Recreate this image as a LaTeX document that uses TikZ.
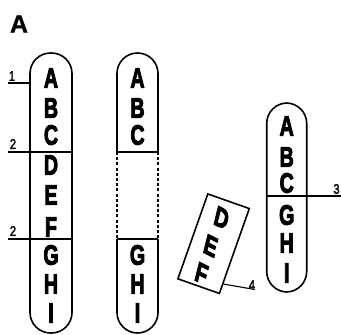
\documentclass[tikz,border=0pt]{standalone}
\usepackage{fontspec}
\setsansfont{Liberation Sans}
\newfontfamily\genefont[FakeBold=4]{Liberation Sans Bold}
\newfontfamily\numfont[FakeBold=2]{Liberation Sans}
\newfontfamily\titlefont[FakeBold=1]{Liberation Sans Bold}
\usetikzlibrary{calc}
\tikzset{
  chrom/.style={draw, line width=1.6pt, rounded corners=20.5pt},
  band/.style={line width=1.6pt},
  lead/.style={line width=1.1pt},
  gene/.style={font=\genefont\fontsize{28}{28}\selectfont, xscale=0.7, inner sep=0pt},
  num/.style={font=\numfont\fontsize{14}{14}\selectfont, xscale=0.8, inner sep=0pt},
}
\begin{document}
\begin{tikzpicture}[x=1pt,y=-1pt]
\useasboundingbox (0,0) rectangle (341,335);
% title
\node[font=\titlefont\fontsize{25}{25}\selectfont, inner sep=0pt] (title) at (19,24) {A};

% chromosome 1
\draw[chrom] (30,53) rectangle (72,333);
\coordinate (c1l1) at (30,152); \coordinate (c1r1) at (72,152);
\coordinate (c1l2) at (30,239); \coordinate (c1r2) at (72,239);
\coordinate (l1a) at (8,83); \coordinate (l1b) at (30,83);
\coordinate (l2a) at (8,152); \coordinate (l3a) at (8,239);
\draw[lead] (l1a) -- (l1b);
\draw[band] (l2a) -- (c1r1);
\draw[band] (l3a) -- (c1r2);
\node[num] (n1) at (12,76) {1};
\node[num] (n2a) at (13,144) {2};
\node[num] (n2b) at (13,231) {2};
\foreach \l/\y in {A/78,B/108,C/135,D/165,E/195,F/227,G/255,H/284,I/313}
  \node[gene] (c1\l) at (51,\y) {\l};

% chromosome 2
\draw[chrom] (117,152) -- (117,53) -- (158,53) -- (158,152);
\draw[band] (117,152) -- (158,152);
\draw[line width=1.3pt, dash pattern=on 3pt off 2.2pt] (117,152) -- (117,239);
\draw[line width=1.3pt, dash pattern=on 3pt off 2.2pt] (158,152) -- (158,239);
\draw[chrom] (117,239) -- (117,333) -- (158,333) -- (158,239);
\draw[band] (117,239) -- (158,239);
\foreach \l/\y in {A/78,B/108,C/135,G/255,H/284,I/313}
  \node[gene] (c2\l) at (137.5,\y) {\l};

% chromosome 3
\draw[chrom] (266.7,103) rectangle (306.7,292);
\coordinate (c3l) at (266.7,196); \coordinate (c3r) at (341,196);
\draw[band] (c3l) -- (c3r);
\node[num] (n3) at (336.5,189) {3};
\foreach \l/\y in {A/126,B/157,C/183,G/215,H/243,I/273}
  \node[gene] (c3\l) at (286.7,\y) {\l};

% fragment DEF
\begin{scope}[shift={(213.6,243.7)}, rotate=-19.4]
  \node[draw, line width=1.6pt, rotate=-19.4, minimum width=44pt, minimum height=90pt, inner sep=0pt] (frag) at (0,0) {};
  \node[gene, rotate=-19.4] (fD) at (-1,-27) {D};
  \node[gene, rotate=-19.4] (fE) at (-2,3) {E};
  \node[gene, rotate=-19.4] (fF) at (-1.5,32) {F};
\end{scope}
\coordinate (l4) at (255,289.5);
\draw[lead] ($(frag.south east)!0.12!(frag.north east)$) -- (l4);
\node[num] (n4) at (252,285) {4};
\end{tikzpicture}
\end{document}
